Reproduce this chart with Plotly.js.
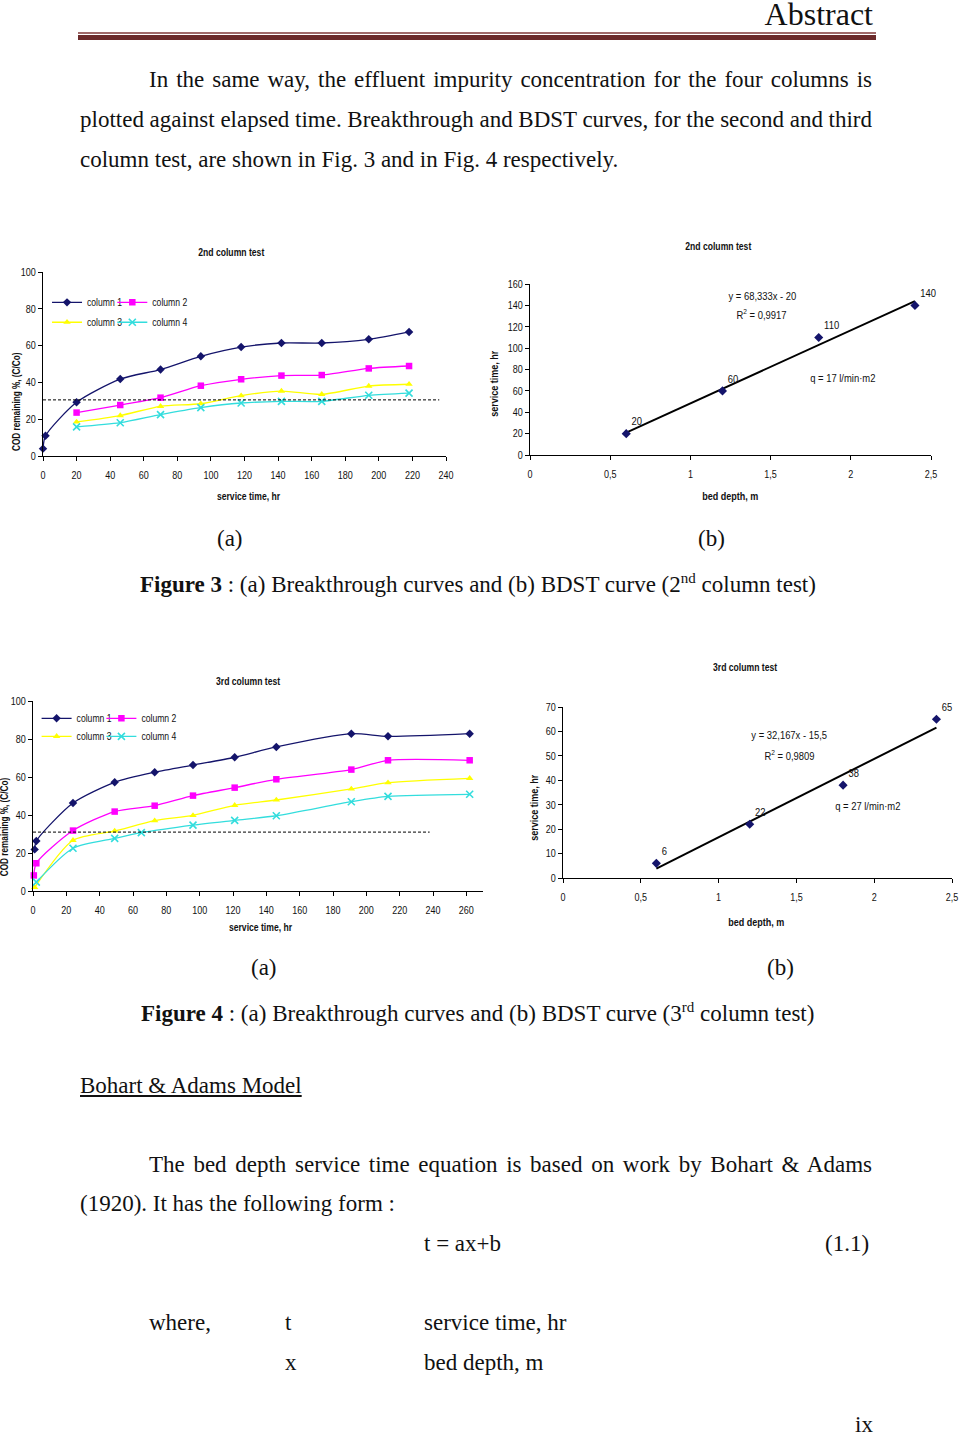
<!DOCTYPE html>
<html>
<head>
<meta charset="utf-8">
<script src="https://cdn.plot.ly/plotly-3.0.1.min.js"></script>
<style>
  html, body { margin:0; padding:0; background:#fff; }
  #page { position:relative; width:960px; height:1436px; overflow:hidden; background:#fff; font-family:"Liberation Serif","Times New Roman",serif; color:#111; }
  .ln { position:absolute; font-size:23px; line-height:40px; height:40px; white-space:nowrap; }
  .chart { position:absolute; }
</style>
</head>
<body>
<div id="page">
  <div style="position:absolute; right:87px; top:0px; font-size:32px; line-height:28px; height:30px;">Abstract</div>
  <div style="position:absolute; left:78px; top:32px; width:798px; height:1.5px; background:#a06a6a;"></div>
  <div style="position:absolute; left:78px; top:35px; width:798px; height:5px; background:#6b2a2a;"></div>

  <div class="ln jl" data-w="723" style="left:149px; top:60px;">In the same way, the effluent impurity concentration for the four columns is</div>
  <div class="ln jl" data-w="792" style="left:80px; top:100px;">plotted against elapsed time. Breakthrough and BDST curves, for the second and third</div>
  <div class="ln" style="left:80px; top:140px;">column test, are shown in Fig. 3 and in Fig. 4 respectively.</div>

  <div id="c3a" class="chart" style="left:0px; top:240px;"></div>
  <div id="c3b" class="chart" style="left:480px; top:240px;"></div>

  <div class="ln" style="left:217px; top:519px;">(a)</div>
  <div class="ln" style="left:698px; top:519px;">(b)</div>
  <div class="ln" style="left:140px; top:558px;"><b>Figure 3</b> : (a) Breakthrough curves and (b) BDST curve (2<sup style="font-size:15px;">nd</sup> column test)</div>

  <div id="c4a" class="chart" style="left:0px; top:665px;"></div>
  <div id="c4b" class="chart" style="left:520px; top:655px;"></div>

  <div class="ln" style="left:251px; top:948px;">(a)</div>
  <div class="ln" style="left:767px; top:948px;">(b)</div>
  <div class="ln" style="left:141px; top:987px;"><b>Figure 4</b> : (a) Breakthrough curves and (b) BDST curve (3<sup style="font-size:15px;">rd</sup> column test)</div>

  <div class="ln" style="left:80px; top:1066px; text-decoration:underline;">Bohart &amp; Adams Model</div>

  <div class="ln jl" data-w="723" style="left:149px; top:1145px;">The bed depth service time equation is based on work by Bohart &amp; Adams</div>
  <div class="ln" style="left:80px; top:1184px;">(1920). It has the following form :</div>
  <div class="ln" style="left:424px; top:1224px;">t = ax+b</div>
  <div class="ln" style="left:825px; top:1224px;">(1.1)</div>
  <div class="ln" style="left:149px; top:1303px;">where,</div>
  <div class="ln" style="left:285px; top:1303px;">t</div>
  <div class="ln" style="left:424px; top:1303px;">service time, hr</div>
  <div class="ln" style="left:285px; top:1343px;">x</div>
  <div class="ln" style="left:424px; top:1343px;">bed depth, m</div>
  <div class="ln" style="left:855px; top:1405px;">ix</div>
</div>

<script>
// ---------- Figure 3 (2nd column test) ----------
const fig3Col1Time = [0, 1.5, 20, 46, 70, 94, 118, 142, 166, 194, 218];
const fig3Col1     = [4, 11, 29.2, 41.8, 47, 54.2, 59.2, 61.4, 61.4, 63.4, 67.4];
const fig3Time     = [20, 46, 70, 94, 118, 142, 166, 194, 218];
const fig3Col2     = [23.6, 27.7, 31.7, 38.2, 41.7, 43.7, 44, 47.6, 48.9];
const fig3Col3     = [18.5, 22, 27, 28.4, 32.8, 35.3, 33.5, 38, 39];
const fig3Col4     = [15.8, 18.1, 22.5, 26.3, 28.8, 29.7, 29.7, 33, 34.2];
const fig3LimitX   = [0, 236];
const fig3LimitY   = [30.5, 30.5];

const fig3BedDepth    = [0.6, 1.2, 1.8, 2.4];
const fig3ServiceTime = [20, 60, 110, 140];
const fig3TrendX      = [0.6, 2.4];
const fig3TrendY      = [21, 144];

// ---------- Figure 4 (3rd column test) ----------
const fig4Col1Time = [1, 2, 24, 49, 73, 96, 121, 146, 191, 213, 262];
const fig4Col1     = [21.9, 26.3, 46.3, 57.2, 62.5, 66.3, 70.4, 75.8, 82.8, 81.4, 82.8];
const fig4Col2Time = [0.5, 2, 24, 49, 73, 96, 121, 146, 191, 213, 262];
const fig4Col2     = [8.2, 14.6, 31.8, 41.8, 44.9, 50.2, 54.4, 58.8, 63.9, 68.8, 68.8];
const fig4Col3Time = [1, 24, 49, 73, 96, 121, 146, 191, 213, 262];
const fig4Col3     = [1.9, 26.7, 31.6, 37, 39.8, 45.1, 47.9, 53.7, 57, 59.3];
const fig4Col4Time = [2, 24, 49, 65, 96, 121, 146, 191, 213, 262];
const fig4Col4     = [4.7, 22.5, 27.7, 30.7, 34.7, 37.2, 39.6, 47, 49.8, 50.9];
const fig4LimitX   = [0, 238];
const fig4LimitY   = [31, 31];

const fig4BedDepth    = [0.6, 1.2, 1.8, 2.4];
const fig4ServiceTime = [6, 22, 38, 65];
const fig4TrendX      = [0.6, 2.4];
const fig4TrendY      = [3.8, 61.6];

const seriesNames = ["column 1", "column 2", "column 3", "column 4"];
const fig3Labels = {title: "2nd column test", eq: "y = 68,333x - 20", r2: "R<sup>2</sup> = 0,9917", q: "q = 17 l/min·m2"};
const fig4Labels = {title: "3rd column test", eq: "y = 32,167x - 15,5", r2: "R<sup>2</sup> = 0,9809", q: "q = 27 l/min·m2"};
const xTitleTime = "service time, hr";
const yTitleCOD = "COD remaining %, (C/Co)";
const xTitleDepth = "bed depth, m";
const yTitleService = "service time, hr";

// ---------- justified body lines ----------
document.querySelectorAll(".jl").forEach(el => {
  const target = parseFloat(el.dataset.w);
  const natural = el.getBoundingClientRect().width;
  const gaps = (el.textContent.match(/ /g) || []).length;
  if (gaps > 0) el.style.wordSpacing = ((target - natural) / gaps).toFixed(3) + "px";
});

// ---------- styling ----------
const SANS = "'Liberation Sans Narrow','Arial Narrow','Liberation Sans',Arial,sans-serif";
const BLACK = "#000";
const TXT = "#111";
const colors = ["#14146b", "#ff00ff", "#ffff00", "#33dddd"];
const symbols = ["diamond", "square", "triangle-up", "x-thin-open"];
const legendIds = ["legend", "legend2", "legend3", "legend4"];

function axis(range, dtick, extra) {
  return Object.assign({
    range: range, dtick: dtick, tick0: 0, showline: true, linecolor: BLACK, linewidth: 1,
    ticks: "outside", ticklen: 4, tickcolor: BLACK, tickwidth: 1, showgrid: false, zeroline: false,
    tickfont: {family: SANS, size: 11, color: TXT}, fixedrange: true, ticklabeloverflow: "allow"
  }, extra || {});
}

function colTrace(i, x, y) {
  const sym = symbols[i];
  const marker = {color: colors[i], size: sym === "x-thin-open" ? 7 : 6.5, symbol: sym};
  if (sym === "x-thin-open") marker.line = {color: colors[i], width: 1.6};
  return {
    type: "scatter", mode: "lines+markers", name: seriesNames[i], x: x, y: y,
    line: {color: colors[i], width: 1.3, shape: "spline", smoothing: 0.7},
    marker: marker, legend: legendIds[i], cliponaxis: false
  };
}

function limitTrace(x, y) {
  return {type: "scatter", mode: "lines", x: x, y: y, showlegend: false,
          line: {color: BLACK, width: 1, dash: "3px,2px"}, hoverinfo: "skip"};
}

function ann(text, x, y, opts) {
  return Object.assign({text: text, x: x, y: y, xref: "paper", yref: "paper", showarrow: false,
    font: {family: SANS, size: 11, color: TXT}, xanchor: "center", yanchor: "middle"}, opts || {});
}

function legendCfg(x, y) {
  return {x: x, y: y, xref: "paper", yref: "paper", xanchor: "left", yanchor: "middle",
          orientation: "h", bgcolor: "rgba(0,0,0,0)", borderwidth: 0,
          font: {family: SANS, size: 10.5, color: TXT}, itemwidth: 30, itemclick: false};
}

const bold = (s) => ({family: SANS, size: s, color: TXT, weight: "bold"});
const reg = (s) => ({family: SANS, size: s, color: TXT});

const config = {staticPlot: true, displayModeBar: false};
const plots = [];

// ---- Fig 3a ----
plots.push(Plotly.newPlot("c3a", [
  colTrace(0, fig3Col1Time, fig3Col1),
  colTrace(1, fig3Time, fig3Col2),
  colTrace(2, fig3Time, fig3Col3),
  colTrace(3, fig3Time, fig3Col4),
  limitTrace(fig3LimitX, fig3LimitY)
], {
  width: 470, height: 270, margin: {l: 42.7, r: 24, t: 31.7, b: 54.3},
  paper_bgcolor: "#fff", plot_bgcolor: "#fff", separators: ", ",
  xaxis: axis([0, 240], 20, {ticklabelstandoff: 5}),
  yaxis: axis([0, 100], 20),
  showlegend: true,
  legend: legendCfg(0.01, 0.835),
  legend2: legendCfg(0.172, 0.835),
  legend3: legendCfg(0.01, 0.727),
  legend4: legendCfg(0.172, 0.727),
  annotations: [
    ann(fig3Labels.title, 0.467, 1, {yshift: 20, font: bold(10.5)}),
    ann(xTitleTime, 0.509, 0, {yshift: -40, font: bold(10.5)}),
    ann(yTitleCOD, -0.066, 0.297, {textangle: -90, font: bold(10)})
  ]
}, config));

// ---- Fig 3b ----
plots.push(Plotly.newPlot("c3b", [
  {type: "scatter", mode: "lines", x: fig3TrendX, y: fig3TrendY, showlegend: false,
   line: {color: BLACK, width: 2}},
  {type: "scatter", mode: "markers+text", x: fig3BedDepth, y: fig3ServiceTime, showlegend: false,
   text: fig3ServiceTime.map(String), textposition: "top right", cliponaxis: false,
   textfont: reg(11.5),
   marker: {symbol: "diamond", size: 7, color: colors[0]}}
], {
  width: 470, height: 270, margin: {l: 50, r: 19.3, t: 44.3, b: 55},
  paper_bgcolor: "#fff", plot_bgcolor: "#fff", separators: ", ",
  xaxis: axis([0, 2.5], 0.5, {ticklabelstandoff: 5}),
  yaxis: axis([0, 160], 20),
  showlegend: false,
  annotations: [
    ann(fig3Labels.title, 0.469, 1, {yshift: 38, font: bold(10.5)}),
    ann(xTitleDepth, 0.499, 0, {yshift: -41, font: bold(11)}),
    ann(yTitleService, -0.09, 0.42, {textangle: -90, font: bold(11)}),
    ann(fig3Labels.eq, 1.447, 149, {xref: "x", yref: "y", font: reg(11.5)}),
    ann(fig3Labels.r2, 1.441, 132, {xref: "x", yref: "y", font: reg(11.5)}),
    ann(fig3Labels.q, 1.953, 72, {xref: "x", yref: "y", font: reg(11.5)})
  ]
}, config));

// ---- Fig 4a ----
plots.push(Plotly.newPlot("c4a", [
  colTrace(0, fig4Col1Time, fig4Col1),
  colTrace(1, fig4Col2Time, fig4Col2),
  colTrace(2, fig4Col3Time, fig4Col3),
  colTrace(3, fig4Col4Time, fig4Col4),
  limitTrace(fig4LimitX, fig4LimitY)
], {
  width: 490, height: 280, margin: {l: 33.3, r: 6.7, t: 35.7, b: 54.3},
  paper_bgcolor: "#fff", plot_bgcolor: "#fff", separators: ", ",
  xaxis: axis([0, 270], 20, {ticklabelstandoff: 5}),
  yaxis: axis([0, 100], 20),
  showlegend: true,
  legend: legendCfg(0.008, 0.909),
  legend2: legendCfg(0.152, 0.909),
  legend3: legendCfg(0.008, 0.814),
  legend4: legendCfg(0.152, 0.814),
  annotations: [
    ann(fig4Labels.title, 0.479, 1, {yshift: 20, font: bold(10.5)}),
    ann(xTitleTime, 0.506, 0, {yshift: -36, font: bold(10.5)}),
    ann(yTitleCOD, -0.063, 0.335, {textangle: -90, font: bold(10)})
  ]
}, config));

// ---- Fig 4b ----
plots.push(Plotly.newPlot("c4b", [
  {type: "scatter", mode: "lines", x: fig4TrendX, y: fig4TrendY, showlegend: false,
   line: {color: BLACK, width: 2}},
  {type: "scatter", mode: "markers+text", x: fig4BedDepth, y: fig4ServiceTime, showlegend: false,
   text: fig4ServiceTime.map(String), textposition: "top right", cliponaxis: false,
   textfont: reg(11.5),
   marker: {symbol: "diamond", size: 7, color: colors[0]}}
], {
  width: 460, height: 280, margin: {l: 42.7, r: 28.3, t: 51.7, b: 56.7},
  paper_bgcolor: "rgba(0,0,0,0)", plot_bgcolor: "rgba(0,0,0,0)", separators: ", ",
  xaxis: axis([0, 2.5], 0.5, {ticklabelstandoff: 5}),
  yaxis: axis([0, 70], 10),
  showlegend: false,
  annotations: [
    ann(fig4Labels.title, 0.469, 1, {yshift: 39.7, font: bold(10.5)}),
    ann(xTitleDepth, 0.497, 0, {yshift: -43.7, font: bold(11)}),
    ann(yTitleService, -0.074, 0.41, {textangle: -90, font: bold(11)}),
    ann(fig4Labels.eq, 1.454, 58.4, {xref: "x", yref: "y", font: reg(11.5)}),
    ann(fig4Labels.r2, 1.454, 50.3, {xref: "x", yref: "y", font: reg(11.5)}),
    ann(fig4Labels.q, 1.962, 29.5, {xref: "x", yref: "y", font: reg(11.5)})
  ]
}, config));

// Narrow the chart lettering (the source charts use a condensed face)
Promise.all(plots).then(() => {
  document.querySelectorAll(".chart svg text").forEach(t => {
    const L = t.getComputedTextLength();
    if (L > 0) {
      t.setAttribute("textLength", (L * 0.82).toFixed(2));
      t.setAttribute("lengthAdjust", "spacingAndGlyphs");
    }
  });
});
</script>
</body>
</html>
